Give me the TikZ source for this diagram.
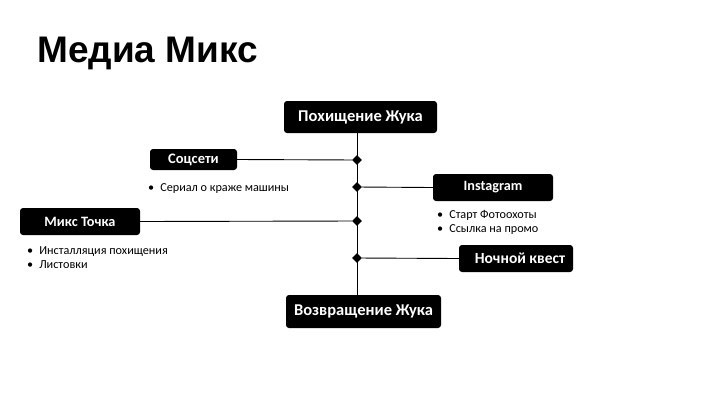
\documentclass[tikz,border=0pt]{standalone}
\usepackage{fontspec}
\setmainfont{Carlito}
\newfontfamily\titlefont{Liberation Sans}
\usetikzlibrary{shapes.geometric}

\begin{document}
\begin{tikzpicture}[
  x=1pt, y=-1pt,
  tag/.style={fill=black,text=white,rounded corners=3pt,inner sep=0pt,font=\bfseries},
  note/.style={anchor=west,align=left,inner sep=0pt,font=\fontsize{12.2}{14}\selectfont},
  link/.style={draw=black,line width=.9pt},
  joint/.style={diamond,fill=black,inner sep=0pt,minimum size=10pt},
]
\useasboundingbox (0,0) rectangle (720,405);

\node[font=\titlefont\bfseries\fontsize{37}{40}\selectfont,anchor=base west,inner sep=0pt] (title) at (37,62) {Медиа Микс};

\node[tag,minimum width=153pt,minimum height=32pt,font=\bfseries\fontsize{16.5}{18}\selectfont] (kidnap) at (360.5,117) {Похищение Жука};
\node[tag,minimum width=155pt,minimum height=33pt,font=\bfseries\fontsize{16.5}{18}\selectfont] (comeback) at (363.5,311.5) {Возвращение Жука};

\node[tag,minimum width=87pt,minimum height=21pt,font=\bfseries\fontsize{14.5}{16}\selectfont] (social) at (193.5,159.5) {Соцсети};
\node[tag,minimum width=120pt,minimum height=27pt,font=\bfseries\fontsize{14.2}{16}\selectfont] (insta) at (493,187.5) {Instagram};
\node[tag,minimum width=120pt,minimum height=27pt,font=\bfseries\fontsize{14.3}{16}\selectfont] (mixpoint) at (80,221.5) {Микс Точка};
\node[tag,minimum width=114pt,minimum height=27pt,font=\bfseries\fontsize{15.5}{17}\selectfont] (quest) at (516,258.5) {\hspace*{8pt}Ночной квест};

\node[note] (socialnote) at (148,189) {\textbullet\hspace{6pt}Сериал о краже машины};
\node[note] (instanote) at (437,222) {\textbullet\hspace{6pt}Старт Фотоохоты\\\textbullet\hspace{6pt}Ссылка на промо};
\node[note] (mixnote) at (27,258) {\textbullet\hspace{6pt}Инсталляция похищения\\\textbullet\hspace{6pt}Листовки};

\coordinate (spine) at (357,0);
\draw[link] (spine |- kidnap.south) -- (spine |- comeback.north);

\node[joint] (jsocial) at (357,160) {};
\node[joint] (jinsta) at (357,187) {};
\node[joint] (jmix) at (357,221) {};
\node[joint] (jquest) at (357,258) {};

\draw[link] (social.east) -- (jsocial);
\draw[link] (jinsta) -- (insta.west);
\draw[link] (mixpoint.east) -- (jmix);
\draw[link] (jquest) -- (quest.west);
\end{tikzpicture}
\end{document}
